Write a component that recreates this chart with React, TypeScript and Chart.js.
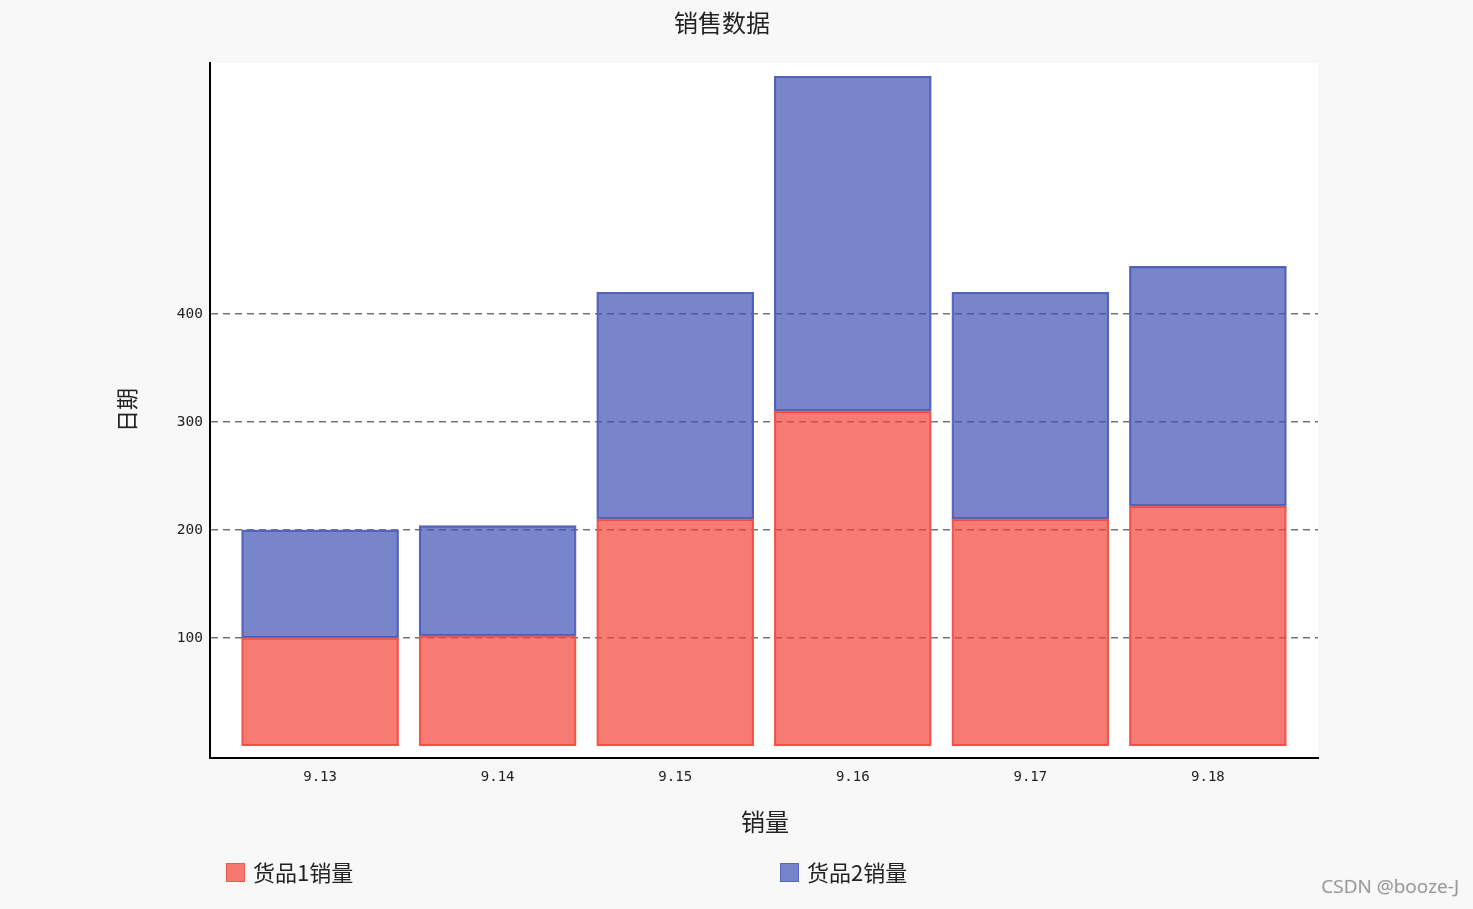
import { useEffect, useRef } from 'react'
import { Chart, registerables } from 'chart.js'
Chart.register(...registerables)

const dates = ['9.13', '9.14', '9.15', '9.16', '9.17', '9.18']
const goods1 = [100, 102, 210, 310, 210, 222]
const goods2 = [100, 102, 210, 310, 210, 222]
const yTicks = [100, 200, 300, 400]

const RED_FILL = 'rgba(244,67,54,0.7)'
const RED_LINE = '#ef5a4f'
const BLUE_FILL = 'rgba(63,81,181,0.7)'
const BLUE_LINE = '#5766bf'
const CJK = '"Noto Sans CJK SC", "Noto Sans", sans-serif'
const MONO = '"DejaVu Sans Mono", "Liberation Mono", monospace'

const plotBg = {
  id: 'plotBg',
  beforeDraw(chart: Chart) {
    const { ctx, chartArea: a } = chart
    ctx.save()
    ctx.fillStyle = '#fff'
    ctx.fillRect(a.left, a.top, a.right - a.left, a.bottom - a.top)
    ctx.restore()
  },
}

export default function App() {
  const ref = useRef<HTMLCanvasElement>(null)

  useEffect(() => {
    document.body.style.margin = '0'
    if (!ref.current) return
    const chart = new Chart(ref.current, {
      type: 'bar',
      data: {
        datasets: [
          {
            label: '货品1销量',
            data: goods1.map((v, i) => ({ x: i, y: v })),
            backgroundColor: RED_FILL, borderColor: RED_LINE,
            borderWidth: 1.5, borderSkipped: false, barThickness: 157,
          },
          {
            label: '货品2销量',
            data: goods2.map((v, i) => ({ x: i, y: v })),
            backgroundColor: BLUE_FILL, borderColor: BLUE_LINE,
            borderWidth: 1.5, borderSkipped: false, barThickness: 157,
          },
        ],
      },
      options: {
        animation: false,
        responsive: true, maintainAspectRatio: false,
        layout: { padding: { top: 63, right: 155, left: 0, bottom: 0 } },
        plugins: { legend: { display: false }, title: { display: false }, tooltip: { enabled: false } },
        scales: {
          x: {
            type: 'linear', stacked: true, offset: false, min: -0.62, max: 5.62,
            afterBuildTicks: s => { s.ticks = dates.map((_, i) => ({ value: i })) },
            afterFit: s => { s.height = 151 },
            grid: { display: false, drawTicks: false },
            border: { display: true, color: '#000', width: 2 },
            ticks: { callback: v => dates[Number(v)] ?? '', padding: 11, color: '#222', font: { family: MONO, size: 14 } },
          },
          y: {
            stacked: true, min: -11.2, max: 632.3,
            afterBuildTicks: s => { s.ticks = yTicks.map(v => ({ value: v })) },
            afterFit: s => { s.width = 210 },
            grid: { drawTicks: false, color: 'rgba(90,90,90,0.85)', lineWidth: 1.5 },
            border: { display: true, color: '#000', width: 2, dash: [7, 5] },
            ticks: { padding: 7, color: '#222', font: { family: MONO, size: 14.5 } },
          },
        },
      },
      plugins: [plotBg],
    })
    return () => chart.destroy()
  }, [])

  const txt = { position: 'absolute' as const, fontFamily: CJK, color: '#222', whiteSpace: 'nowrap' as const, lineHeight: 1 }

  return (
    <div style={{ position: 'absolute', left: 0, top: 0, width: 1473, height: 909, background: '#f8f8f8', overflow: 'hidden' }}>
      <div style={{ position: 'absolute', left: 0, top: 0, width: 1473, height: 909 }}>
        <canvas ref={ref} />
      </div>
      <div style={{ ...txt, left: 722, top: 22, fontSize: 24, transform: 'translate(-50%,-50%)' }}>销售数据</div>
      <div style={{ ...txt, left: 765, top: 821, fontSize: 24, transform: 'translate(-50%,-50%)' }}>销量</div>
      <div style={{ ...txt, left: 125, top: 410, fontSize: 22, transform: 'translate(-50%,-50%) rotate(-90deg)' }}>日期</div>
      {[
        { label: '货品1销量', fill: RED_FILL, line: RED_LINE, x: 226 },
        { label: '货品2销量', fill: BLUE_FILL, line: BLUE_LINE, x: 780 },
      ].map(k => (
        <div key={k.label} style={{ position: 'absolute', left: k.x, top: 862, display: 'flex', alignItems: 'center', height: 20 }}>
          <div style={{ width: 17, height: 17, background: k.fill, border: `1.5px solid ${k.line}` }} />
          <div style={{ fontFamily: CJK, fontSize: 22, color: '#222', marginLeft: 8, whiteSpace: 'nowrap', lineHeight: 1, marginTop: -3 }}>{k.label}</div>
        </div>
      ))}
      <div style={{ position: 'absolute', right: 14, top: 877, fontFamily: '"Open Sans", sans-serif', fontSize: 19, color: '#9a9a9a', textShadow: '0 0 1px #ccc', lineHeight: 1 }}>CSDN @booze-J</div>
    </div>
  )
}
